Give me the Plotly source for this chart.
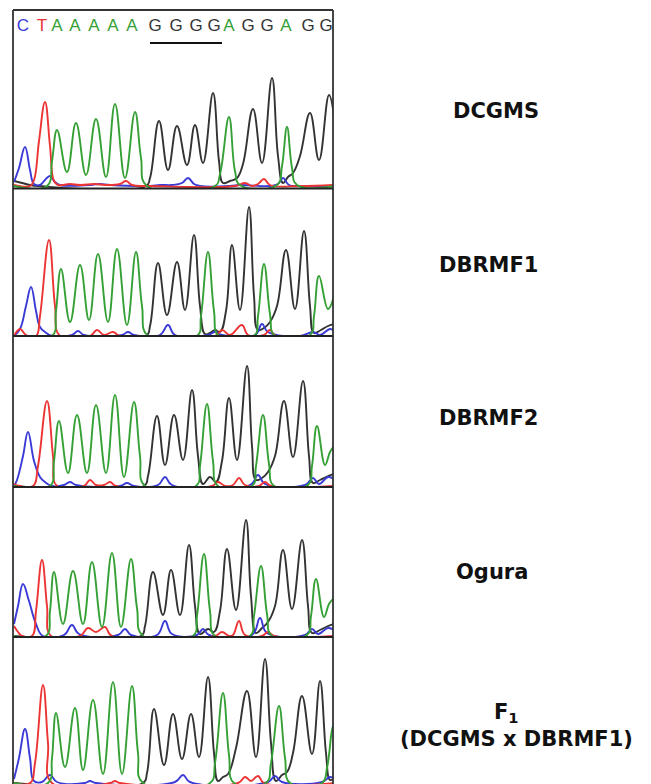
import plotly.graph_objects as go

W, H = 651, 784
X0, X1 = 13, 333

# ---- top sequence ----
SEQ = list("CTAAAAAGGGGAGGAGG")
SEQ_X = [23, 42, 57, 75, 94, 113, 132, 155, 176, 196, 214, 229, 248, 267, 286, 308, 326]
UNDERLINED = (7, 10)  # GGGG

# ---- panel labels ----
LABELS = ["DCGMS", "DBRMF1", "DBRMF2", "Ogura"]
F1_LINE1 = "F<sub>1</sub>"
F1_LINE2 = "(DCGMS x DBRMF1)"

# ---- chromatogram traces: (scan position, signal) for peaks / valleys ----
# Panel 1: DCGMS
P1_C = [(14,4),(19,18),(25,39),(30,16),(34,2),(40,1),(45,6),(50,10),(55,4),(60,1),(90,1),(100,2),(110,1),(150,0),(160,1),(172,1),(182,3),(188,8),(194,2),(200,0),(230,0),(240,1),(270,0),(278,2),(283,8),(289,1),(300,0),(334,0)]
P1_T = [(14,1),(30,0),(34,6),(39,45),(45,84),(50,40),(54,5),(58,1),(70,2),(80,1),(95,2),(105,1),(120,2),(126,5),(132,1),(150,0),(235,0),(245,3),(252,0),(258,2),(264,7),(270,1),(300,0),(334,1)]
P1_A = [(14,0),(47,0),(52,25),(57,56),(67,14),(76,63),(86,11),(96,67),(106,9),(115,82),(125,8),(135,74),(141,28),(147,0),(215,0),(220,12),(229,69),(235,15),(240,1),(277,1),(282,20),(287,59),(292,18),(297,1),(334,0)]
P1_G = [(14,5),(22,3),(30,1),(38,0),(146,0),(150,8),(159,65),(168,16),(177,60),(187,21),(195,61),(203,23),(213,93),(219,25),(223,3),(230,5),(237,8),(243,22),(253,77),(262,23),(272,108),(278,30),(283,3),(288,9),(293,13),(300,30),(310,73),(319,26),(329,91),(334,70)]

# Panel 2: DBRMF1
P2_C = [(14,0),(20,7),(26,30),(31,49),(36,25),(40,9),(45,4),(52,0),(72,1),(78,5),(84,1),(122,1),(128,4),(134,1),(160,1),(168,11),(175,1),(208,1),(215,4),(222,1),(255,1),(262,12),(268,4),(300,0),(313,4),(320,1),(330,7),(334,5)]
P2_T = [(14,0),(20,7),(26,1),(36,0),(40,20),(49,96),(55,30),(60,0),(90,0),(97,6),(104,1),(113,4),(120,0),(215,0),(222,6),(230,1),(242,11),(248,1),(264,1),(270,6),(276,0),(334,0)]
P2_A = [(14,0),(52,0),(56,25),(61,67),(70,14),(80,71),(89,16),(98,82),(108,14),(117,87),(127,11),(136,84),(142,30),(148,0),(197,0),(201,20),(208,84),(214,25),(219,0),(254,0),(258,20),(264,72),(270,22),(275,0),(310,1),(314,20),(319,60),(328,27),(334,40)]
P2_G = [(14,0),(146,0),(150,10),(158,73),(167,21),(177,74),(185,26),(194,101),(200,30),(205,2),(210,3),(215,6),(220,4),(226,25),(232,91),(240,26),(249,129),(254,40),(258,6),(264,8),(270,14),(277,30),(286,86),(295,27),(304,105),(310,30),(314,3),(321,6),(328,10),(334,12)]

# Panel 3: DBRMF2
P3_C = [(14,0),(17,6),(23,30),(28,54),(34,25),(40,9),(45,4),(52,0),(64,1),(70,4),(76,1),(120,0),(127,3),(134,0),(158,1),(165,9),(172,1),(250,1),(258,11),(265,2),(305,1),(313,8),(319,2),(328,9),(334,7)]
P3_T = [(14,2),(20,0),(33,0),(38,20),(47,85),(53,30),(57,0),(84,0),(90,6),(96,1),(104,1),(110,4),(116,0),(212,0),(218,4),(225,0),(233,1),(239,8),(245,1),(259,0),(265,4),(271,0),(334,0)]
P3_A = [(14,0),(50,0),(54,25),(59,65),(68,13),(77,71),(87,13),(96,81),(106,13),(115,91),(124,9),(134,84),(140,30),(145,0),(196,0),(200,20),(207,82),(213,25),(218,0),(252,0),(256,20),(263,71),(269,22),(274,0),(308,1),(312,20),(317,60),(325,21),(330,34),(334,40)]
P3_G = [(14,0),(144,0),(148,10),(157,70),(165,21),(174,71),(183,26),(192,96),(198,30),(203,2),(210,9),(216,4),(222,25),(229,88),(237,26),(247,120),(252,40),(256,6),(262,8),(268,14),(275,30),(284,85),(293,29),(303,105),(309,30),(313,3),(320,6),(326,9),(334,12)]

# Panel 4: Ogura
P4_C = [(14,12),(18,30),(23,52),(29,35),(36,12),(43,0),(64,1),(72,11),(79,2),(118,1),(125,7),(131,1),(157,1),(165,15),(172,2),(197,1),(203,7),(209,1),(252,1),(260,18),(267,3),(305,1),(312,7),(318,2),(328,8),(334,6)]
P4_T = [(14,10),(18,4),(22,0),(32,0),(36,25),(42,76),(47,30),(51,0),(80,0),(88,8),(96,4),(105,9),(112,0),(215,0),(222,4),(229,0),(233,1),(239,15),(245,1),(262,0),(268,4),(274,0),(334,0)]
P4_A = [(14,0),(46,0),(50,25),(54,64),(63,12),(73,65),(83,12),(92,74),(102,9),(112,83),(121,9),(131,77),(137,28),(143,0),(193,0),(197,20),(204,82),(210,25),(215,0),(250,0),(254,20),(261,70),(267,22),(272,0),(307,1),(311,20),(316,57),(324,19),(329,32),(334,38)]
P4_G = [(14,0),(141,0),(145,10),(153,64),(163,21),(171,66),(180,21),(189,91),(195,30),(200,2),(208,7),(214,4),(220,25),(227,87),(236,26),(246,116),(251,40),(256,3),(262,8),(268,14),(275,30),(283,86),(292,27),(302,96),(308,30),(312,3),(320,6),(326,9),(334,12)]

# Panel 5: F1 (DCGMS x DBRMF1)
P5_C = [(14,4),(19,25),(25,54),(30,25),(34,2),(42,1),(50,8),(57,1),(85,0),(90,2),(96,0),(175,1),(183,8),(190,1),(268,1),(275,7),(282,1),(322,1),(330,6),(334,4)]
P5_T = [(14,0),(30,0),(35,20),(43,98),(48,40),(52,0),(110,0),(115,2),(120,0),(238,0),(245,6),(251,2),(258,7),(264,0),(334,0)]
P5_A = [(14,0),(48,0),(52,25),(56,70),(65,16),(75,75),(83,13),(93,83),(103,9),(113,101),(122,9),(132,97),(138,30),(143,0),(210,0),(215,20),(223,90),(229,28),(234,0),(266,0),(271,20),(279,77),(285,25),(290,0),(322,0),(327,15),(332,53),(334,60)]
P5_G = [(14,0),(143,0),(147,10),(154,74),(164,18),(173,69),(182,24),(191,69),(199,26),(208,106),(214,30),(218,2),(223,6),(228,9),(236,35),(247,92),(256,26),(265,124),(271,40),(276,2),(282,8),(287,11),(293,30),(302,87),(312,29),(320,102),(326,30),(330,3),(334,5)]

PANELS = [
    (P1_C, P1_T, P1_A, P1_G),
    (P2_C, P2_T, P2_A, P2_G),
    (P3_C, P3_T, P3_A, P3_G),
    (P4_C, P4_T, P4_A, P4_G),
    (P5_C, P5_T, P5_A, P5_G),
]

# ---- styling / geometry (pixels) ----
BASE_COLORS = {"A": "#35a035", "C": "#3a3ad6", "G": "#333333", "T": "#ec3434"}
BASELINE_PX = [186, 336, 486, 636, 783]
TOP_PX = [10, 189, 336, 487, 637]
SEP_PX = [188.5, 336, 487, 637]
LABEL_POS = [(496, 111), (488, 265), (488, 418), (492, 572)]

def py(p):
    return 1 - p / H

def px(p):
    return p / W

fig = go.Figure()
layout_axes = {}
for i, (chans, b, t) in enumerate(zip(PANELS, BASELINE_PX, TOP_PX)):
    bot = min(b + 2, H)
    ya = "y" if i == 0 else f"y{i+1}"
    key = "yaxis" if i == 0 else f"yaxis{i+1}"
    layout_axes[key] = dict(domain=[py(bot), py(t)], range=[-(bot - b), b - t],
                            visible=False, anchor="x", fixedrange=True)
    order = [(chans[3], "G"), (chans[0], "C"), (chans[1], "T"), (chans[2], "A")]
    for pts, base in order:
        fig.add_trace(go.Scatter(
            x=[p[0] for p in pts], y=[p[1] for p in pts], mode="lines",
            line=dict(color=BASE_COLORS[base], width=1.9, shape="spline", smoothing=1.2),
            xaxis="x", yaxis=ya, hoverinfo="skip"))

# sequence letters in panel 1
seq_h = BASELINE_PX[0] - 27
fig.add_trace(go.Scatter(
    x=SEQ_X, y=[seq_h] * len(SEQ), mode="text", text=SEQ,
    textfont=dict(family="Liberation Sans, Arial, sans-serif", size=17,
                  color=[BASE_COLORS[s] for s in SEQ]),
    textposition="middle center", xaxis="x", yaxis="y", hoverinfo="skip",
    cliponaxis=False))

u0, u1 = UNDERLINED
under_h = BASELINE_PX[0] - 43
fig.add_shape(type="line", xref="x", yref="y", x0=SEQ_X[u0] - 5, x1=SEQ_X[u1] + 8,
              y0=under_h, y1=under_h, line=dict(color="#111111", width=2.2))

# frame lines
frame = dict(color="#333333", width=1.8)
fig.add_shape(type="line", xref="paper", yref="paper", x0=px(X0), x1=px(X0), y0=0, y1=py(TOP_PX[0]), line=frame)
fig.add_shape(type="line", xref="paper", yref="paper", x0=px(X1), x1=px(X1), y0=0, y1=py(TOP_PX[0]), line=frame)
fig.add_shape(type="line", xref="paper", yref="paper", x0=px(X0), x1=px(X1), y0=py(TOP_PX[0]), y1=py(TOP_PX[0]), line=frame)
for s in SEP_PX:
    fig.add_shape(type="line", xref="paper", yref="paper", x0=px(X0), x1=px(X1), y0=py(s), y1=py(s),
                  line=dict(color="#222222", width=1.8))

lab_font = dict(family="DejaVu Sans, Liberation Sans, sans-serif", size=21, color="#111111")
for lab, (lx, ly) in zip(LABELS, LABEL_POS):
    fig.add_annotation(x=px(lx), y=py(ly), xref="paper", yref="paper", text=f"<b>{lab}</b>",
                       showarrow=False, font=lab_font, xanchor="center", yanchor="middle")
fig.add_annotation(x=px(506), y=py(713), xref="paper", yref="paper", text=f"<b>{F1_LINE1}</b>",
                   showarrow=False, font=lab_font, xanchor="center", yanchor="middle")
fig.add_annotation(x=px(516), y=py(739), xref="paper", yref="paper", text=f"<b>{F1_LINE2}</b>",
                   showarrow=False, font=lab_font, xanchor="center", yanchor="middle")

fig.update_layout(
    width=W, height=H, margin=dict(l=0, r=0, t=0, b=0),
    paper_bgcolor="white", plot_bgcolor="white", showlegend=False,
    xaxis=dict(domain=[px(X0), px(X1)], range=[X0, X1], visible=False, fixedrange=True),
    **layout_axes,
)
fig.write_html("out.html", config={"displayModeBar": False},
               post_script="document.body.style.margin='0';document.body.style.padding='0';")
